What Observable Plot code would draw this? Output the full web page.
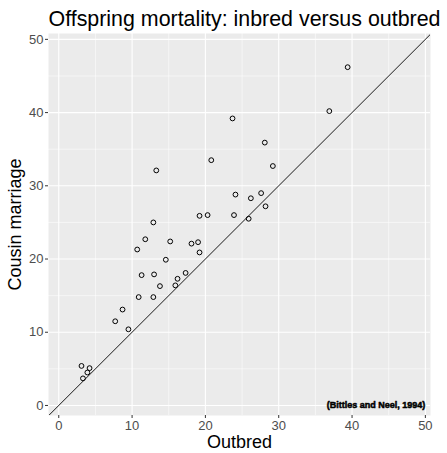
<!DOCTYPE html>
<html><head><meta charset="utf-8">
<script src="https://cdn.jsdelivr.net/npm/d3@7"></script>
<script src="https://cdn.jsdelivr.net/npm/@observablehq/plot@0.6"></script>
<style>body{margin:0;background:#fff;}</style>
</head><body><div id="chart"></div>
<script>
const outbred = [39.4,36.9,23.7,28.1,20.8,29.2,13.3,24.1,27.6,26.2,28.2,19.2,20.3,23.9,25.9,12.9,11.8,15.2,18.1,19.0,10.7,19.2,14.6,11.3,13.0,13.8,16.2,17.3,15.9,10.9,12.9,8.7,7.7,9.5,3.1,4.2,3.9,3.3];
const cousin  = [46.2,40.2,39.2,35.9,33.5,32.7,32.1,28.8,29.0,28.3,27.2,25.9,26.0,26.0,25.5,25.0,22.7,22.4,22.1,22.3,21.3,20.9,19.9,17.8,17.9,16.3,17.3,18.1,16.4,14.8,14.8,13.1,11.5,10.4,5.4,5.1,4.5,3.7];
const xTicks = [0,10,20,30,40,50];
const yTicks = [0,10,20,30,40,50];
const minorTicks = [5,15,25,35,45];
const refLine = {slope: 1, intercept: 0};
const titleText = "Offspring mortality: inbred versus outbred";
const xLabel = "Outbred";
const yLabel = "Cousin marriage";
const noteText = "(Bittles and Neel, 1994)";
const notePos = {x: 50, y: 0};

const xDomain = [-1.4, 50.7];
const yDomain = [-1.37, 50.8];
const data = outbred.map((x, i) => ({x, y: cousin[i]}));
const lineData = xDomain.map(x => ({x, y: refLine.intercept + refLine.slope * x}));
const font = "'Liberation Sans', Arial, sans-serif";

const chart = Plot.plot({
  width: 447, height: 453,
  marginLeft: 48, marginRight: 17, marginTop: 33, marginBottom: 38,
  style: {fontFamily: font, background: "#fff"},
  x: {domain: xDomain},
  y: {domain: yDomain},
  marks: [
    Plot.frame({fill: "#ebebeb", stroke: null}),
    Plot.ruleX(minorTicks, {stroke: "#fff", strokeWidth: 0.55}),
    Plot.ruleY(minorTicks, {stroke: "#fff", strokeWidth: 0.55}),
    Plot.ruleX(xTicks, {stroke: "#fff", strokeWidth: 1.1}),
    Plot.ruleY(yTicks, {stroke: "#fff", strokeWidth: 1.1}),
    Plot.axisX(xTicks, {tickSize: 3, tickPadding: 2, stroke: "#333", fill: "#4d4d4d", fontSize: 13, label: null}),
    Plot.axisY(yTicks, {tickSize: 3, tickPadding: 2, stroke: "#333", fill: "#4d4d4d", fontSize: 13, label: null}),
    Plot.line(lineData, {x: "x", y: "y", stroke: "#000", strokeWidth: 0.9, clip: true}),
    Plot.dot(data, {x: "x", y: "y", r: 2.4, stroke: "#000", strokeWidth: 1, fill: "none"}),
    Plot.text([notePos], {x: "x", y: "y", text: () => noteText, textAnchor: "end", fontSize: 9, fontWeight: "bold", fill: "#000", stroke: "#000", strokeWidth: 0.5}),
    Plot.text([titleText], {text: d => d, frameAnchor: "top-left", textAnchor: "start", lineAnchor: "bottom", dy: -8, fontSize: 21.4, fill: "#000"}),
    Plot.text([xLabel], {text: d => d, frameAnchor: "bottom", textAnchor: "middle", lineAnchor: "middle", dy: 27, fontSize: 18, fill: "#000"}),
    Plot.text([yLabel], {text: d => d, frameAnchor: "left", textAnchor: "middle", rotate: -90, lineAnchor: "middle", dx: -33, fontSize: 18, fill: "#000"})
  ]
});
document.getElementById("chart").appendChild(chart);
</script>
</body></html>
